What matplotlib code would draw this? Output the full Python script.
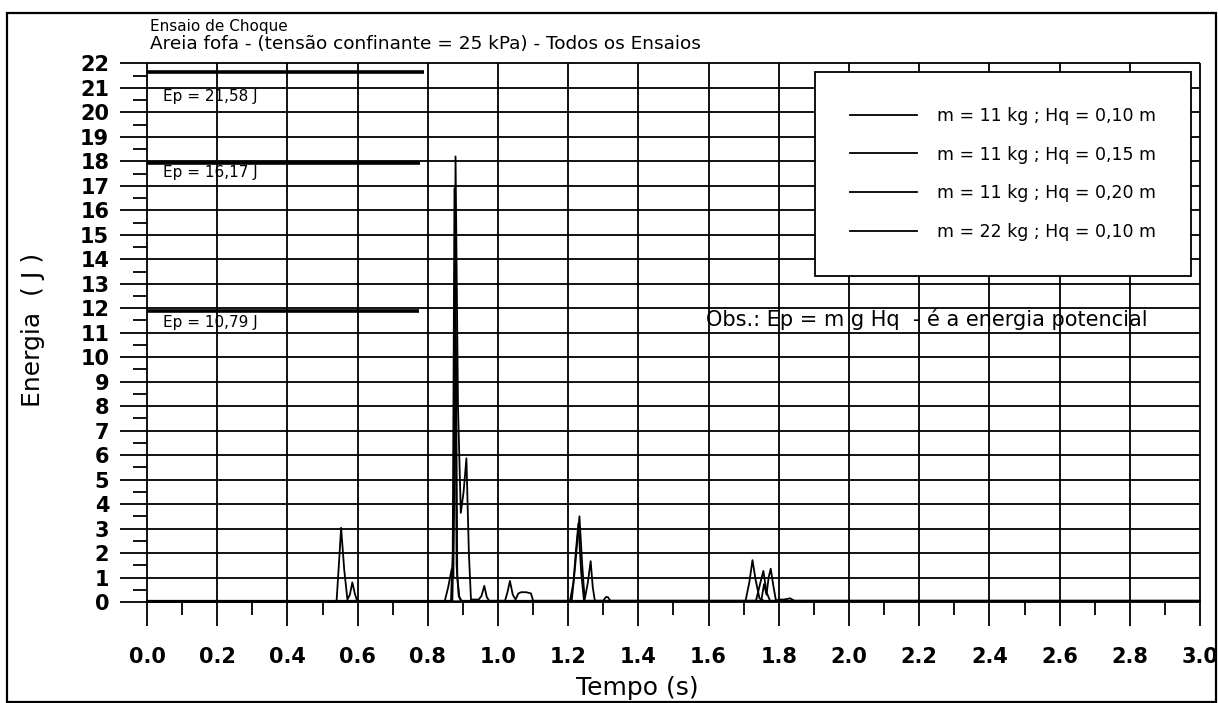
"""Ensaio de Choque - energia x tempo, areia fofa."""
import numpy as np
import matplotlib
matplotlib.use("Agg")
import matplotlib.pyplot as plt

# ---- data ----
labels = ["m = 11 kg ; Hq = 0,10 m", "m = 11 kg ; Hq = 0,15 m",
          "m = 11 kg ; Hq = 0,20 m", "m = 22 kg ; Hq = 0,10 m"]

t1 = [0, 0.540, 0.547, 0.553, 0.562, 0.571, 0.578, 0.585, 0.592, 0.599,
      1.705, 1.716, 1.725, 1.734, 1.745, 1.76, 3.0]
e1 = [0.02, 0.02, 1.6, 3.03, 1.3, 0.1, 0.3, 0.8, 0.35, 0.03,
      0.03, 0.8, 1.71, 0.9, 0.15, 0.03, 0.03]

t2 = [0, 0.848, 0.858, 0.868, 0.873, 0.877, 0.882, 0.888, 0.894, 1.02, 1.027,
      1.034, 1.042, 1.05, 1.058, 1.066, 1.08, 1.094, 1.10, 1.735, 1.746,
      1.756, 1.765, 1.775, 3.0]
e2 = [0.02, 0.02, 0.6, 1.34, 1.0, 13.9, 1.5, 0.25, 0.05, 0.05, 0.4,
      0.86, 0.3, 0.1, 0.35, 0.4, 0.4, 0.35, 0.05, 0.05, 0.7,
      1.27, 0.4, 0.05, 0.05]

t3 = [0, 0.866, 0.871, 0.876, 0.880, 0.884, 0.890, 0.897, 1.205, 1.215,
      1.222, 1.229, 1.237, 1.245, 1.75, 1.758, 1.765, 1.771, 1.777, 1.784,
      1.792, 1.80, 1.815, 1.832, 1.845, 3.0]
e3 = [0.03, 0.03, 2.0, 16.9, 11.0, 1.0, 0.2, 0.03, 0.03, 0.8,
      2.1, 3.2, 1.2, 0.05, 0.05, 0.73, 0.3, 1.0, 1.36, 0.7,
      0.05, 0.1, 0.1, 0.15, 0.05, 0.05]

t4 = [0, 0.87, 0.875, 0.879, 0.886, 0.894, 0.902, 0.91, 0.917, 0.923, 0.945,
      0.953, 0.961, 0.968, 0.975, 1.21, 1.22, 1.232, 1.24, 1.247, 1.256,
      1.264, 1.27, 1.276, 1.3, 1.307, 1.313, 1.32, 3.0]
e4 = [0.05, 0.05, 4.0, 18.2, 8.0, 3.64, 4.5, 5.87, 2.0, 0.1, 0.1,
      0.25, 0.66, 0.2, 0.05, 0.05, 1.5, 3.5, 1.5, 0.1, 0.8,
      1.67, 0.6, 0.05, 0.05, 0.2, 0.2, 0.05, 0.05]

# potential energy reference lines (drawn where the original put them)
ep_levels = [21.64, 17.92, 11.9]
ep_ends = [0.79, 0.777, 0.775]
ep_texts = ["Ep = 21,58 J", "Ep = 16,17 J", "Ep = 10,79 J"]
ep_text_y = [20.63, 17.55, 11.4]

xticks = np.round(np.arange(0, 3.01, 0.2), 1)
yticks = np.arange(0, 23)

W, H = 1218, 703
fig = plt.figure(figsize=(W / 100, H / 100), dpi=100)

# axes placed so that t=0 -> px 147, t=3 -> px 1200, E=0 -> py 602, E=22 -> py 63.5
x0, x1 = -0.08, 3.02
y0, y1 = -1.2, 22.2
sx, sy = 351.0, 24.48
left = 147 + sx * x0
right = 147 + sx * x1
top = 602 - sy * y1
bottom = 602 - sy * y0
ax = fig.add_axes([left / W, 1 - bottom / H, (right - left) / W, (bottom - top) / H])
ax.set_xlim(x0, x1)
ax.set_ylim(y0, y1)
for s in ax.spines.values():
    s.set_visible(False)

# grid as in the original (major lines poke out on the left / bottom)
ax.hlines(yticks, -0.077, 3.0, color="black", lw=1.3, zorder=1)
ax.vlines(xticks, -1.0, 22, color="black", lw=1.3, zorder=1)
ax.hlines(yticks[:-1] + 0.5, -0.04, 0, color="black", lw=1.3, zorder=1)
ax.vlines(xticks[:-1] + 0.1, -0.55, 0, color="black", lw=1.3, zorder=1)

ax.set_xticks(xticks)
ax.set_xticklabels([f"{v:.1f}" for v in xticks])
ax.set_yticks(yticks)
ax.tick_params(axis="x", length=0, pad=11, labelsize=15)
ax.tick_params(axis="y", length=0, pad=7, labelsize=15)
for lab in ax.get_xticklabels() + ax.get_yticklabels():
    lab.set_fontweight("bold")

# Ep lines and labels
for lvl, end, txt, ty in zip(ep_levels, ep_ends, ep_texts, ep_text_y):
    ax.hlines(lvl, 0, end, color="black", lw=2.6, zorder=2)
    ax.text(0.045, ty, txt, fontsize=11, va="center", ha="left", zorder=3)

# the four test curves (all black in the scan)
lines = []
for t, e, lab in zip([t1, t2, t3, t4], [e1, e2, e3, e4], labels):
    ln, = ax.plot(t, e, color="black", lw=1.3, zorder=3, label=lab)
    lines.append(ln)

ax.text(1.594, 11.55, "Obs.: Ep = m g Hq  - é a energia potencial",
        fontsize=15, va="center", ha="left", zorder=3)

leg = ax.legend(handles=lines, loc="upper left",
                bbox_to_anchor=(815 / W, 1 - 72 / H), bbox_transform=fig.transFigure,
                fontsize=12.5, frameon=True, fancybox=False, shadow=False,
                handlelength=3.9, handletextpad=1.15, labelspacing=1.2,
                borderpad=2.0, borderaxespad=0)
leg.get_frame().set_edgecolor("black")
leg.get_frame().set_linewidth(1.3)
leg.get_frame().set_alpha(1)
leg.set_zorder(5)

# texts around the plot
fig.text(150 / W, 1 - 27 / H, "Ensaio de Choque", fontsize=11, va="center", ha="left")
fig.text(150 / W, 1 - 44 / H, "Areia fofa - (tensão confinante = 25 kPa) - Todos os Ensaios",
         fontsize=13.3, va="center", ha="left")
fig.text(33 / W, 1 - 330 / H, "Energia  ( J )", fontsize=18, rotation=90,
         va="center", ha="center")
fig.text(637 / W, 1 - 688 / H, "Tempo (s)", fontsize=18, va="center", ha="center")

# outer border of the scanned figure
fig.add_artist(plt.Rectangle((7 / W, 1 - 702 / H), (1216 - 7) / W, (702 - 13) / H,
                             transform=fig.transFigure, fill=False,
                             edgecolor="black", lw=1.6))

fig.savefig("out.png", dpi=100)
